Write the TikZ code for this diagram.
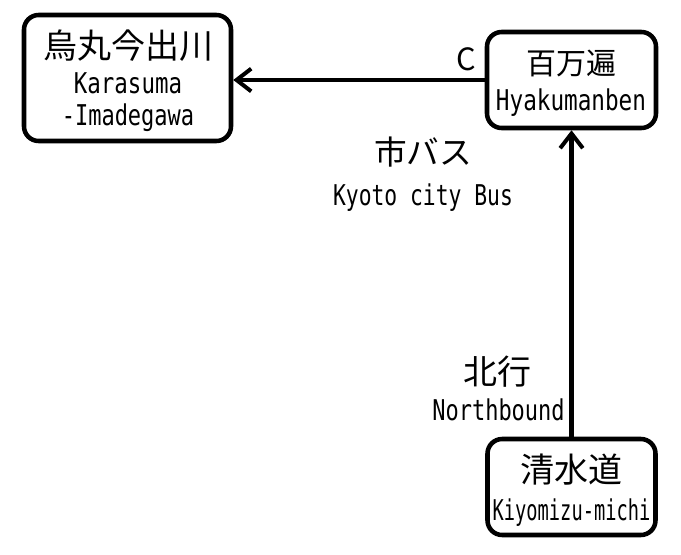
\documentclass[tikz,border=0pt]{standalone}
\usepackage{fontspec}
\newfontfamily\jp{Noto Sans CJK JP}
\newfontfamily\lat{DejaVu Sans Mono}
\usetikzlibrary{arrows.meta}
\newcommand{\tallsq}[2]{\scalebox{#1}[1.3]{#2}}
\begin{document}
\begin{tikzpicture}[x=0.75pt,y=-0.75pt,
  station/.style={draw,line width=3.4pt,rounded corners=11pt,inner sep=0pt,fill=white},
  jptext/.style={inner sep=0pt,anchor=center,font=\jp\fontsize{#1}{#1}\selectfont},
  lattext/.style={inner sep=0pt,anchor=base,font=\lat\fontsize{16.5pt}{16.5pt}\selectfont},
  conn/.style={line width=3.4pt,-{Straight Barb[length=11pt,width=17pt,line width=3pt]}}]
\useasboundingbox[fill=white] (0,0) rectangle (681,554);
% stations
\node[station,minimum width=207*0.75pt,minimum height=126*0.75pt] (kara) at (127.5,78) {};
\node[station,minimum width=169*0.75pt,minimum height=96*0.75pt] (hyaku) at (571.5,80) {};
\node[station,minimum width=168*0.75pt,minimum height=96*0.75pt] (kiyo) at (571.5,487) {};
% connectors
\draw[conn] (hyaku.west) -- (kara.east |- hyaku.west);
\draw[conn] (kiyo.north) -- (hyaku.south);
% texts
\node[jptext=25.5pt] (karajp) at (128,46) {烏丸今出川};
\node[lattext] (karaen1) at (128,93) {\tallsq{1.02}{Karasuma}};
\node[lattext] (karaen2) at (128,125) {\tallsq{1}{-Imadegawa}};
\node[jptext=22.5pt] (hyakujp) at (571,63) {百万遍};
\node[lattext] (hyakuen) at (571,110) {\tallsq{1.03}{Hyakumanben}};
\node[jptext=23pt] (clabel) at (466,59) {C};
\node[jptext=24.5pt] (busjp) at (423,152) {市バス};
\node[lattext] (busen) at (423,205) {\tallsq{0.97}{Kyoto city Bus}};
\node[jptext=25.5pt] (northjp) at (497,372) {北行};
\node[lattext] (northen) at (498.5,420) {\tallsq{1}{Northbound}};
\node[jptext=25.5pt] (kiyojp) at (571,470) {清水道};
\node[lattext] (kiyoen) at (571.5,520) {\tallsq{0.85}{Kiyomizu-michi}};
\end{tikzpicture}
\end{document}
